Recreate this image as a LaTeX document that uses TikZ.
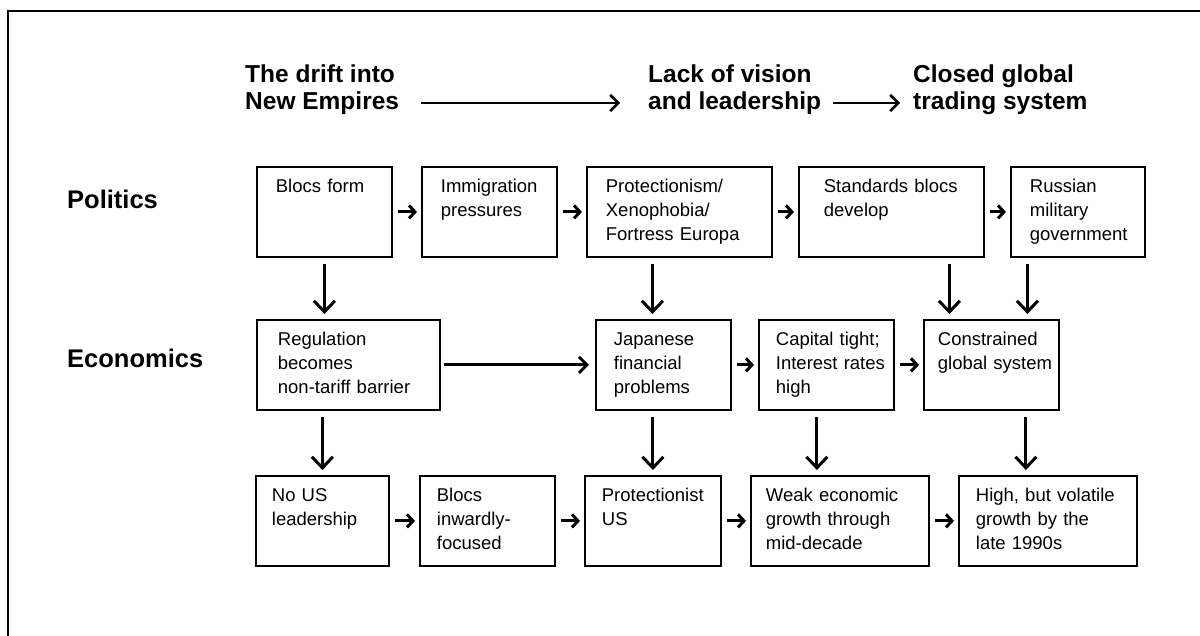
\documentclass[tikz,border=0pt]{standalone}
\usepackage{fontspec}
\setmainfont{Liberation Sans}
\usetikzlibrary{arrows.meta}
\tikzset{
  	card/.style = {% a scenario box, text set at its top left
    	draw=black,
    	line width=1.8pt,
    	anchor=north west,
    	inner sep=0pt,
    	align=left,
    	text height=26pt,
    	text depth=64pt,
    	font=\fontsize{18.5}{24}\selectfont,
    	execute at begin node={\leftskip=#1\relax},
  	},
  	card/.default = {17pt},
  	flow/.style = {% short arrows from box to box
    	line width=3pt,
    	-{Straight Barb[length=6pt,width=13pt]},
    	shorten <=5pt, shorten >=4pt,
  	},
  	drop/.style = {% arrows down to the next row
    	line width=3pt,
    	-{Straight Barb[length=11pt,width=21pt]},
    	shorten <=6pt, shorten >=5pt,
  	},
  	lead/.style = {% long arrows
    	line width=2.5pt,
    	-{Straight Barb[length=8pt,width=16pt]},
  	},
  	head/.style = {anchor=base west, inner sep=0pt, align=left,
    	font=\bfseries\fontsize{24.5}{27}\selectfont},
  	rowname/.style = {anchor=base west, inner sep=0pt,
    	font=\bfseries\fontsize{25.5}{28}\selectfont},
	}

\begin{document}
\begin{tikzpicture}[x=1pt,y=-1pt]
    	\useasboundingbox (0,0) rectangle (1200,636);
    	\draw[line width=2.8pt] (8,636) -- (8,11) -- (1200,11);
    	% headings (base is the last line)
    	\node[head] (drift) at (245,110) {The drift into\\New Empires};
    	\node[head] (lack) at (648,110) {Lack of vision\\and leadership};
    	\node[head] (closed) at (913,110) {Closed global\\trading system};
    	\draw[lead] ([xshift=22pt,yshift=7pt]drift.base east) -- ([xshift=-28pt,yshift=7pt]lack.base west);
    	\draw[lead] ([xshift=12pt,yshift=7pt]lack.base east) -- ([xshift=-13pt,yshift=7pt]closed.base west);
    	\node[rowname] (pol) at (67,209) {Politics};
    	\node[rowname] (eco) at (67,367) {Economics};
    	% politics
    	\node[card=19pt, text width=135pt] (blocs) at (256,166) {Blocs form};
    	\node[card=19pt, text width=135pt] (immig) at (421,166) {Immigration\\pressures};
    	\node[card=19pt, text width=185pt] (protect) at (586,166) {Protectionism/\\Xenophobia/\\Fortress Europa};
    	\node[card=25pt, text width=185pt] (stand) at (798,166) {Standards blocs\\develop};
    	\node[card=19pt, text width=134pt] (russia) at (1010,166) {Russian\\military\\government};
    	% economics
    	\node[card=21pt, text width=183pt] (regul) at (256,319) {Regulation\\becomes\\non-tariff barrier};
    	\node[card=18pt, text width=135pt] (japan) at (595,319) {Japanese\\financial\\problems};
    	\node[card, text width=135pt] (capital) at (758,319) {Capital tight;\\Interest rates\\high};
    	\node[card=14pt, text width=135pt] (constr) at (923,319) {Constrained\\global system};
    	% outcomes
    	\node[card=16pt, text width=133pt] (nous) at (255,475) {No US\\leadership};
    	\node[card, text width=135pt] (inward) at (419,475) {Blocs\\inwardly-\\focused};
    	\node[card, text width=136pt] (protus) at (584,475) {Protectionist\\US};
    	\node[card=15pt, text width=178pt] (weak) at (750,475) {Weak economic\\growth through\\mid-decade};
    	\node[card, text width=178pt] (high) at (958,475) {High, but volatile\\growth by the\\late 1990s};
    	% across
    	\foreach \a/\b in {blocs/immig, immig/protect, protect/stand, stand/russia,
      	japan/capital, capital/constr,
      	nous/inward, inward/protus, protus/weak, weak/high}
      	\draw[flow] (\a) -- (\b);
    	\draw[lead, line width=2.8pt, shorten <=3pt, shorten >=6pt] (regul) -- (japan);
    	% down
    	\coordinate (pj) at ([xshift=-11pt]japan.north);
    	\coordinate (sc) at ([xshift=-42pt]constr.north);
    	\coordinate (rc) at ([xshift=36pt]constr.north);
    	\coordinate (cw) at ([xshift=-23pt]weak.north);
    	\coordinate (ch) at ([xshift=-22pt]high.north);
    	\draw[drop] (blocs.south) -- (blocs.south |- regul.north);
    	\draw[drop] (protect.south -| pj) -- (pj);
    	\draw[drop] (stand.south -| sc) -- (sc);
    	\draw[drop] (russia.south -| rc) -- (rc);
    	\draw[drop] (regul.south -| nous.north) -- (nous.north);
    	\draw[drop] (japan.south -| protus.north) -- (protus.north);
    	\draw[drop] (capital.south -| cw) -- (cw);
    	\draw[drop] (constr.south -| ch) -- (ch);
 	\end{tikzpicture}
\end{document}
